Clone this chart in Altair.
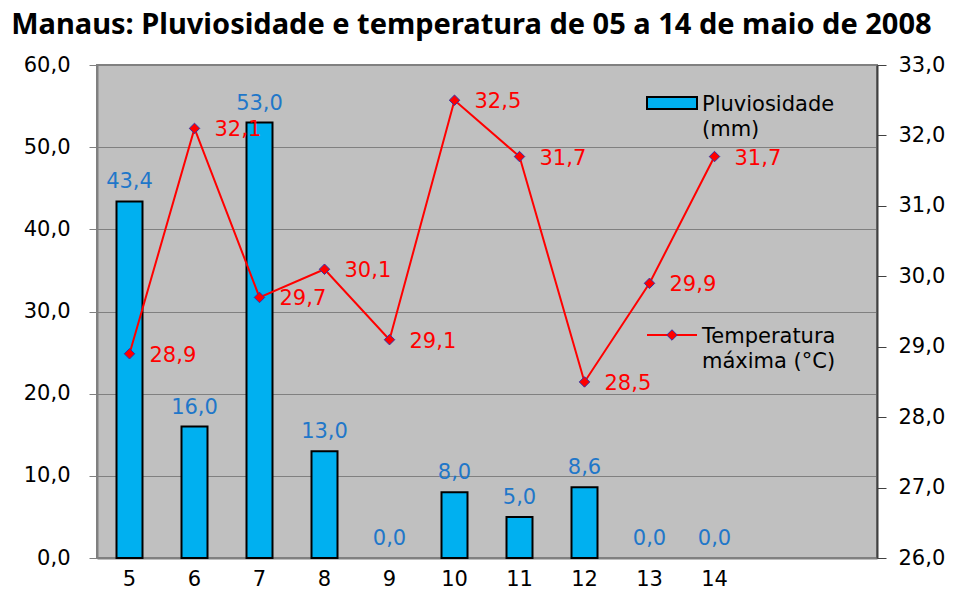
import altair as alt
import pandas as pd

days = [5, 6, 7, 8, 9, 10, 11, 12, 13, 14]
slots = [5, 6, 7, 8, 9, 10, 11, 12, 13, 14, 15, 16]
rain = [43.4, 16.0, 53.0, 13.0, 0.0, 8.0, 5.0, 8.6, 0.0, 0.0]
temp = [28.9, 32.1, 29.7, 30.1, 29.1, 32.5, 31.7, 28.5, 29.9, 31.7]
left_ticks = [0, 10, 20, 30, 40, 50, 60]
right_ticks = [26, 27, 28, 29, 30, 31, 32, 33]
title_text = "Manaus: Pluviosidade e temperatura de 05 a 14 de maio de 2008"
legend_rain = "Pluviosidade\n(mm)"
legend_temp = "Temperatura\nmáxima (°C)"


def br(v):
    return f"{v:.1f}".replace(".", ",")


df = pd.DataFrame({
    "day": days,
    "rain": rain,
    "temp": temp,
    "rain_lbl": [br(v) for v in rain],
    "temp_lbl": [br(v) for v in temp],
})
one = pd.DataFrame({"k": [0]})

FONT = "DejaVu Sans"
FS = 21
num_expr = "replace(format(datum.value, '.1f'), '.', ',')"

x = alt.X(
    "day:O",
    scale=alt.Scale(domain=slots, paddingInner=0.6, paddingOuter=0.3),
    axis=alt.Axis(title=None, labelAngle=0, ticks=False, domainColor="#808080",
                  domainWidth=2, labelPadding=10, labelFontSize=FS, labelFont=FONT,
                  labelColor="black",
                  labelExpr="datum.value > 14 ? '' : datum.label"),
)

y_rain = alt.Y(
    "rain:Q",
    scale=alt.Scale(domain=[0, 60], nice=False),
    axis=alt.Axis(title=None, values=left_ticks, labelExpr=num_expr, grid=True,
                  gridColor="#808080", gridWidth=1, domainColor="#808080",
                  domainWidth=2, tickColor="#808080", tickWidth=1, tickSize=8,
                  labelPadding=19, labelFontSize=FS, labelFont=FONT,
                  labelColor="black"),
)

y_temp = alt.Y(
    "temp:Q",
    scale=alt.Scale(domain=[26, 33], nice=False),
    axis=alt.Axis(title=None, orient="right", values=right_ticks, labelExpr=num_expr,
                  grid=False, domainColor="#404040", domainWidth=2,
                  tickColor="#404040", tickWidth=1, tickSize=9, labelPadding=12,
                  labelFontSize=FS, labelFont=FONT, labelColor="black"),
)

base = alt.Chart(df)

bars = base.transform_filter("datum.rain > 0").mark_bar(
    color="#00B0F0", stroke="black", strokeWidth=2
).encode(x=x, y=y_rain)

bar_text = base.mark_text(
    color="#1F77C9", fontSize=FS, font=FONT, baseline="alphabetic", dy=-13
).encode(x=x, y=y_rain, text="rain_lbl:N")

rain_layer = alt.layer(bars, bar_text)

line = base.mark_line(color="#FF0000", strokeWidth=2).encode(x=x, y=y_temp)
pts = base.mark_point(
    shape="diamond", filled=True, fill="#FF0000", stroke="#3333AA",
    strokeWidth=1, size=110, opacity=1
).encode(x=x, y=y_temp)
temp_text = base.mark_text(
    color="#FF0000", fontSize=FS, font=FONT, align="left", baseline="middle",
    dx=20, dy=2
).encode(x=x, y=y_temp, text="temp_lbl:N")

temp_layer = alt.layer(line, pts, temp_text)

# manual legend
leg = alt.Chart(one)
leg_rect = leg.mark_rect(color="#00B0F0", stroke="black", strokeWidth=2).encode(
    x=alt.value(550), x2=alt.value(600), y=alt.value(32), y2=alt.value(44)
)
leg_rain_txt = leg.mark_text(
    align="left", baseline="alphabetic", fontSize=FS, font=FONT, color="black",
    lineBreak="\n", lineHeight=25
).encode(x=alt.value(605), y=alt.value(46), text=alt.value(legend_rain))
leg_line = leg.mark_rule(color="#FF0000", strokeWidth=2).encode(
    x=alt.value(550), x2=alt.value(600), y=alt.value(270)
)
leg_pt = leg.mark_point(
    shape="diamond", filled=True, fill="#FF0000", stroke="#3333AA",
    strokeWidth=1, size=110, opacity=1
).encode(x=alt.value(575), y=alt.value(270))
leg_temp_txt = leg.mark_text(
    align="left", baseline="alphabetic", fontSize=FS, font=FONT, color="black",
    lineBreak="\n", lineHeight=25
).encode(x=alt.value(605), y=alt.value(278), text=alt.value(legend_temp))

chart = alt.layer(
    rain_layer, temp_layer, leg_rect, leg_rain_txt, leg_line, leg_pt, leg_temp_txt
).resolve_scale(y="independent").properties(
    width=780,
    height=493,
    autosize=alt.AutoSizeParams(type="none"),
    padding={"left": 89, "top": 57, "right": 69, "bottom": 31},
    background="white",
    title=alt.TitleParams(
        title_text, font="Noto Sans", fontSize=29, fontWeight="bold",
        anchor="start", color="black", frame="bounds", offset=14, dx=-12
    ),
).configure_view(
    fill="#C0C0C0", stroke="#808080", strokeWidth=2
)

chart.save("out.html", embed_options={"renderer": "svg", "actions": False})
